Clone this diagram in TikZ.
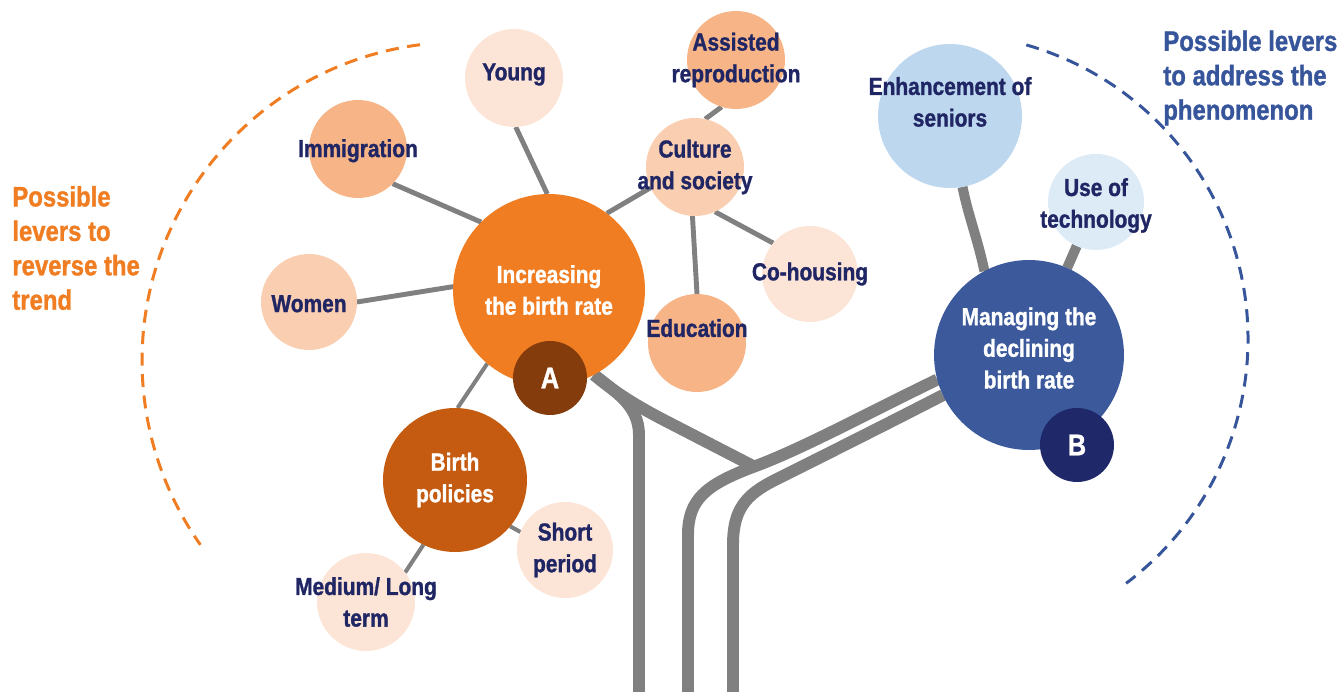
\documentclass[tikz,border=0pt]{standalone}
\usepackage{fontspec}
\setmainfont{Liberation Sans}[FakeStretch=0.85, BoldFeatures={FakeBold=1.2}]
\usepackage{tikz}
\usetikzlibrary{backgrounds}

\definecolor{trendorange}{RGB}{240,125,34}
\definecolor{badgebrown}{RGB}{132,60,12}
\definecolor{policybrown}{RGB}{197,90,17}
\definecolor{peachmid}{RGB}{246,180,135}
\definecolor{peachlight}{RGB}{250,206,176}
\definecolor{peachpale}{RGB}{252,229,215}
\definecolor{inknavy}{RGB}{32,38,100}
\definecolor{declineblue}{RGB}{60,90,155}
\definecolor{badgenavy}{RGB}{31,40,104}
\definecolor{seniorblue}{RGB}{189,215,238}
\definecolor{techblue}{RGB}{221,235,247}
\definecolor{leverblue}{RGB}{55,85,155}
\definecolor{stemgray}{RGB}{128,128,128}

\begin{document}
\begin{tikzpicture}[
    x=0.02cm, y=-0.02cm, % 按像素取坐标
    ball/.style={circle, inner sep=0pt, outer sep=0pt},
    lever/.style={text=inknavy, align=center, inner sep=0pt, font=\fontsize{14}{18}\selectfont\bfseries},
    hub/.style={lever, text=white},
    badge/.style={ball, minimum size=1.48cm, text=white, font=\fontsize{17}{20}\selectfont\bfseries},
    spoke/.style={draw=stemgray, line width=2.8pt},
    stem/.style={draw=stemgray, line width=6.8pt},
    side/.style={align=left, inner sep=0pt, font=\fontsize{16}{19.6}\selectfont\bfseries},
    ring/.style={line width=1.7pt, dash pattern=on 0.26cm off 0.17cm}
  ]
  \useasboundingbox (0,0) rectangle (1339,692);

  % A: 提高出生率
  \node[ball, fill=trendorange, minimum size=3.84cm, label={[hub]center:{Increasing\\the birth rate}}] (amain) at (549,290) {};
  \node[badge, fill=badgebrown] (abadge) at (550,378) {A};
  \node[ball, fill=peachpale, minimum size=1.96cm, label={[lever, yshift=2pt]center:Young}] (young) at (514,78) {};
  \node[ball, fill=peachmid, minimum size=1.96cm, label={[lever, yshift=-1pt]center:Immigration}] (imm) at (358,149) {};
  \node[ball, fill=peachlight, minimum size=1.92cm, label={[lever, yshift=-1pt]center:Women}] (women) at (309,302) {};
  \node[ball, fill=policybrown, minimum size=2.88cm, label={[hub]center:{Birth\\policies}}] (policy) at (455,480) {};
  \node[ball, fill=peachpale, minimum size=1.92cm, label={[lever]center:{Short\\period}}] (short) at (565,550) {};
  \node[ball, fill=peachpale, minimum size=1.96cm, label={[lever]center:{Medium/ Long\\term}}] (medium) at (366,602) {};
  \node[ball, fill=peachlight, minimum size=1.96cm, label={[lever]center:{Culture\\and society}}] (culture) at (695,167) {};
  \node[ball, fill=peachmid, minimum size=1.96cm, label={[lever]center:{Assisted\\reproduction}}] (assist) at (736,60) {};
  \node[ball, fill=peachmid, minimum size=1.96cm, label={[lever, yshift=8.5pt]center:Education}] (edu) at (697,343) {};
  \node[ball, fill=peachpale, minimum size=1.92cm, label={[lever]center:Co-housing}] (cohouse) at (810,274) {};

  % B: 应对出生率下降
  \node[ball, fill=declineblue, minimum size=3.80cm, label={[hub, yshift=4pt]center:{Managing the\\declining\\birth rate}}] (bmain) at (1029,355) {};
  \node[badge, fill=badgenavy] (bbadge) at (1077,445) {B};
  \node[ball, fill=seniorblue, minimum size=2.88cm, label={[lever, yshift=8pt]center:{Enhancement of\\seniors}}] (enh) at (950,116) {};
  \node[ball, fill=techblue, minimum size=1.92cm, label={[lever, yshift=-2pt]center:{Use of\\technology}}] (tech) at (1096,202) {};

  % 连线和枝干
  \begin{scope}[on background layer]
    \draw[stem] (amain.-62) .. controls (615,392) and (639,405) .. (639,435) -- (639,700);
    \draw[stem] (amain.-62) .. controls (612,390) and (630,402) .. (660,418) -- (755,467);
    \draw[stem] (bmain.195) .. controls (870,412) and (800,450) .. (753,467) .. controls (705,485) and (688,500) .. (688,535) -- (688,700);
    \draw[stem] (bmain.205) .. controls (885,425) and (815,460) .. (775,480) .. controls (745,495) and (733,510) .. (733,545) -- (733,700);
    \draw[stem, line width=5.7pt] (enh.-80) .. controls (968,215) and (978,240) .. (bmain.118);
    \draw[stem, line width=5.7pt] (tech) -- (bmain);

    \draw[spoke] (young.-88) -- (amain.91);
    \draw[spoke] (imm.-45) -- (amain.135);
    \draw[spoke] (women.0) -- (amain.178);
    \draw[spoke] (culture.205) -- (amain.53);
    \draw[spoke] (culture.78) -- (assist.253);
    \draw[spoke] (culture.-93) -- (edu.90);
    \draw[spoke] (culture.-66) -- (cohouse.140);
    \draw[spoke, line width=2.3pt] (policy.88) -- (amain.230);
    \draw[spoke, line width=2.3pt] (policy.-40) -- (short.158);
    \draw[spoke, line width=2.3pt] (policy.244) -- (medium.37);
  \end{scope}

  % 两侧的说明和虚线弧
  \node[side, text=trendorange, anchor=west] (leftnote) at (12,248) {Possible\\levers to\\reverse the\\trend};
  \node[side, text=leverblue, anchor=west] (rightnote) at (1163,78) {Possible levers\\to address the\\phenomenon};
  \draw[ring, trendorange] ([shift={(97.4:6.38cm)}]461,361) arc[start angle=97.4, end angle=215.2, radius=6.38cm];
  \draw[ring, leverblue] ([shift={(74:6.12cm)}]942,339) arc[start angle=74, end angle=-53, radius=6.12cm];
\end{tikzpicture}
\end{document}
